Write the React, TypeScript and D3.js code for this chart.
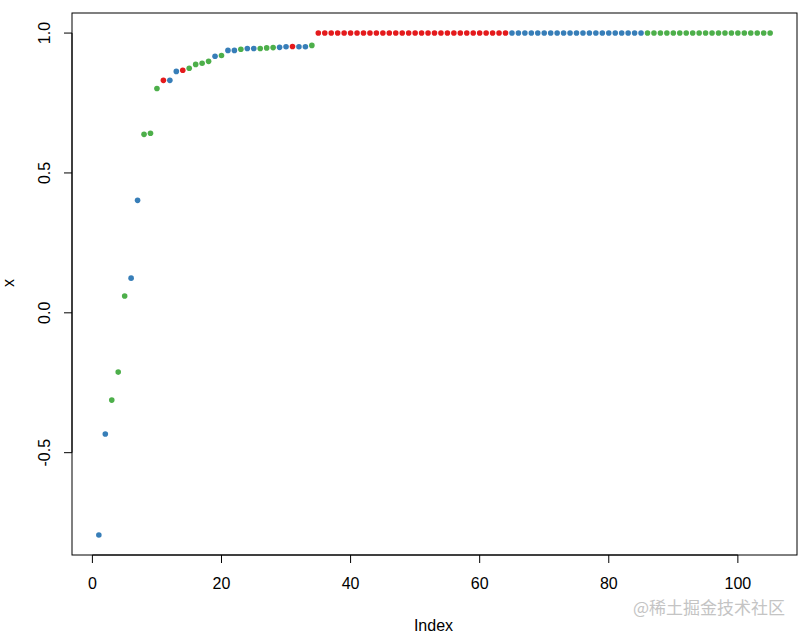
import React from "react";
import * as d3 from "d3";

const indexValues = [
  1, 2, 3, 4, 5, 6, 7, 8, 9, 10, 11, 12, 13, 14, 15, 16, 17, 18, 19, 20,
  21, 22, 23, 24, 25, 26, 27, 28, 29, 30, 31, 32, 33, 34, 35, 36, 37, 38, 39, 40,
  41, 42, 43, 44, 45, 46, 47, 48, 49, 50, 51, 52, 53, 54, 55, 56, 57, 58, 59, 60,
  61, 62, 63, 64, 65, 66, 67, 68, 69, 70, 71, 72, 73, 74, 75, 76, 77, 78, 79, 80,
  81, 82, 83, 84, 85, 86, 87, 88, 89, 90, 91, 92, 93, 94, 95, 96, 97, 98, 99, 100,
  101, 102, 103, 104, 105,
];

const xValues = [
  -0.794, -0.433, -0.312, -0.212, 0.06, 0.124, 0.402, 0.638, 0.642, 0.802,
  0.831, 0.831, 0.863, 0.867, 0.874, 0.888, 0.892, 0.899, 0.917, 0.92,
  0.938, 0.938, 0.942, 0.945, 0.945, 0.945, 0.947, 0.948, 0.949, 0.951,
  0.952, 0.951, 0.951, 0.956,
  1, 1, 1, 1, 1, 1, 1, 1, 1, 1, 1, 1, 1, 1, 1, 1, 1, 1, 1, 1,
  1, 1, 1, 1, 1, 1, 1, 1, 1, 1,
  1, 1, 1, 1, 1, 1, 1, 1, 1, 1, 1, 1, 1, 1, 1, 1, 1, 1, 1, 1, 1,
  1, 1, 1, 1, 1, 1, 1, 1, 1, 1, 1, 1, 1, 1, 1, 1, 1, 1, 1, 1,
];

// group of each point: b = blue, g = green, r = red
const groups = [
  "b", "b", "g", "g", "g", "b", "b", "g", "g", "g",
  "r", "b", "b", "r", "g", "g", "g", "g", "b", "g",
  "b", "b", "g", "b", "b", "g", "g", "g", "b", "b",
  "r", "b", "b", "g",
  "r", "r", "r", "r", "r", "r", "r", "r", "r", "r", "r", "r", "r", "r", "r",
  "r", "r", "r", "r", "r", "r", "r", "r", "r", "r", "r", "r", "r", "r", "r",
  "b", "b", "b", "b", "b", "b", "b", "b", "b", "b", "b", "b", "b", "b", "b",
  "b", "b", "b", "b", "b", "b",
  "g", "g", "g", "g", "g", "g", "g", "g", "g", "g", "g", "g", "g", "g", "g",
  "g", "g", "g", "g", "g",
];

const xTicks = [0, 20, 40, 60, 80, 100];
const yTicks = [-0.5, 0, 0.5, 1.0];
const yTickLabels = ["-0.5", "0.0", "0.5", "1.0"];

const groupColors: Record<string, string> = {
  r: "#E41A1C",
  b: "#377EB8",
  g: "#4DAF4A",
};

export default function App() {
  const W = 803;
  const H = 636;
  const left = 72;
  const right = 797;
  const top = 13;
  const bottom = 555;

  const xExt = d3.extent(indexValues) as [number, number];
  const yExt = d3.extent(xValues) as [number, number];
  const xPad = (xExt[1] - xExt[0]) * 0.04;
  const yPad = (yExt[1] - yExt[0]) * 0.04;

  const xScale = d3.scaleLinear().domain([xExt[0] - xPad, xExt[1] + xPad]).range([left, right]);
  const yScale = d3.scaleLinear().domain([yExt[0] - yPad, yExt[1] + yPad]).range([bottom, top]);

  const font = "'Liberation Sans', Arial, sans-serif";

  return (
    <svg
      width={W}
      height={H}
      style={{ position: "absolute", left: 0, top: 0, background: "#fff" }}
      fontFamily={font}
    >
      <rect x={0} y={0} width={W} height={H} fill="#fff" />
      {indexValues.map((ix, i) => (
        <circle
          key={i}
          cx={xScale(ix)}
          cy={yScale(xValues[i])}
          r={2.8}
          fill={groupColors[groups[i]]}
        />
      ))}
      <rect
        x={left}
        y={top}
        width={right - left}
        height={bottom - top}
        fill="none"
        stroke="#000"
        strokeWidth={1}
      />
      {/* x axis */}
      <line
        x1={xScale(xTicks[0])}
        x2={xScale(xTicks[xTicks.length - 1])}
        y1={bottom}
        y2={bottom}
        stroke="#000"
      />
      {xTicks.map((t) => (
        <g key={t}>
          <line x1={xScale(t)} x2={xScale(t)} y1={bottom} y2={bottom + 8} stroke="#000" />
          <text x={xScale(t)} y={589} textAnchor="middle" fontSize={16} fill="#000">
            {t}
          </text>
        </g>
      ))}
      {/* y axis */}
      <line
        x1={left}
        x2={left}
        y1={yScale(yTicks[0])}
        y2={yScale(yTicks[yTicks.length - 1])}
        stroke="#000"
      />
      {yTicks.map((t, i) => (
        <g key={t}>
          <line x1={left - 8} x2={left} y1={yScale(t)} y2={yScale(t)} stroke="#000" />
          <text
            transform={`translate(50,${yScale(t)}) rotate(-90)`}
            textAnchor="middle"
            fontSize={16}
            fill="#000"
          >
            {yTickLabels[i]}
          </text>
        </g>
      ))}
      <text x={(left + right) / 2 - 1} y={631} textAnchor="middle" fontSize={16} fill="#000">
        Index
      </text>
      <text
        transform={`translate(14,${(top + bottom) / 2 - 1}) rotate(-90)`}
        textAnchor="middle"
        fontSize={16}
        fill="#000"
      >
        x
      </text>
      <text
        x={785}
        y={614}
        textAnchor="end"
        fontSize={17}
        fill="#c4c4c4"
        fontFamily="'Noto Sans CJK SC', sans-serif"
      >
        @稀土掘金技术社区
      </text>
    </svg>
  );
}
